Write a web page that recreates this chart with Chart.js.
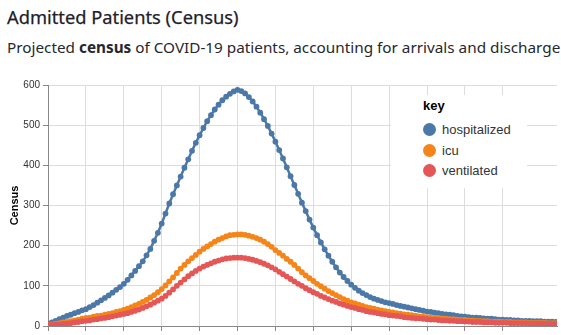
<!DOCTYPE html>
<html>
<head>
<meta charset="utf-8">
<script src="https://cdn.jsdelivr.net/npm/chart.js@4"></script>
<style>
  html, body { margin: 0; padding: 0; background: #fff; overflow: hidden; }
  body { width: 561px; height: 335px; position: relative; font-family: "Noto Sans", sans-serif; color: #262730; }
  #title { position: absolute; left: 7px; top: 4px; font-size: 18.3px; white-space: nowrap; color: #1f2029; -webkit-text-stroke: 0.25px #1f2029; }
  #subtitle { position: absolute; left: 7px; top: 37px; font-size: 15.3px; white-space: nowrap; }
  #chart { position: absolute; left: 0; top: 0; }
  #legend { position: absolute; left: 391px; top: 95px; width: 136px; height: 93px; background: #fff;
            font-family: "Liberation Sans", Arial, sans-serif; color: #333; }
  #legend .ttl { position: absolute; left: 32px; top: 3px; font-size: 13px; font-weight: bold; color: #000; }
  #legend .item { position: absolute; left: 32px; height: 14px; font-size: 13px; line-height: 14px; white-space: nowrap; }
  #legend .dot { display: inline-block; width: 13px; height: 13px; border-radius: 50%; vertical-align: middle; margin-right: 6px; margin-top: -2px; }
</style>
</head>
<body>
<div id="title">Admitted Patients (Census)</div>
<div id="subtitle">Projected <b>census</b> of COVID-19 patients, accounting for arrivals and discharge</div>
<canvas id="chart" width="561" height="335"></canvas>
<div id="legend"></div>
<script>
"use strict";

// day index 0..134
var days = [];
for (var d = 0; d <= 134; d++) days.push(d);

var hospitalized = [
    5, 9, 13, 17, 21, 25, 28, 32, 35, 39, 42,
    47, 52, 58, 64, 70, 76, 83, 90, 97, 105,
    115, 126, 137, 149, 161, 176, 192, 212, 232, 255,
    280, 305, 328, 350, 372, 394, 415, 436, 456, 475,
    493, 510, 525, 539, 551, 562, 571, 578, 584, 588,
    585, 579, 570, 559, 546, 531, 515, 498, 479, 459,
    438, 417, 395, 373, 351, 329, 307, 286, 265, 245,
    226, 208, 191, 175, 160, 146, 133, 122, 112, 103,
    95, 88, 82, 77, 72, 68, 65, 62, 59, 57,
    55, 52, 50, 48, 46, 44, 42, 40, 38, 36,
    35, 33, 32, 30, 29, 28, 27, 25, 24, 23,
    22, 21, 21, 20, 19, 18, 18, 17, 16, 16,
    15, 15, 14, 14, 13, 13, 13, 12, 12, 12,
    11, 11, 11, 10
];

var icu = [
    3, 4, 6, 7, 9, 10, 12, 14, 16, 18, 20,
    21, 23, 25, 26, 28, 30, 32, 35, 37, 40,
    43, 47, 51, 55, 60, 65, 71, 77, 84, 92,
    101, 111, 121, 132, 143, 152, 161, 169, 177, 185,
    192, 198, 204, 210, 215, 219, 223, 226, 227, 228,
    228, 227, 225, 222, 219, 215, 210, 204, 197, 189,
    182, 175, 167, 160, 152, 143, 134, 126, 119, 112,
    105, 99, 93, 87, 82, 77, 72, 67, 63, 59,
    56, 53, 50, 47, 45, 43, 41, 39, 37, 35,
    34, 32, 31, 29, 28, 27, 26, 24, 23, 22,
    21, 20, 20, 19, 18, 17, 17, 16, 15, 15,
    14, 14, 13, 13, 12, 12, 11, 11, 11, 10,
    10, 10, 9, 9, 9, 9, 8, 8, 8, 8,
    8, 7, 7, 7
];

var ventilated = [
    2, 3, 4, 4, 5, 6, 7, 9, 10, 12, 13,
    14, 16, 17, 19, 20, 22, 24, 26, 28, 30,
    32, 35, 38, 41, 45, 49, 53, 58, 63, 68,
    75, 83, 91, 100, 108, 116, 124, 131, 137, 143,
    148, 152, 156, 160, 163, 166, 168, 169, 170, 170,
    170, 169, 167, 165, 162, 159, 155, 151, 146, 141,
    135, 129, 123, 117, 111, 105, 100, 94, 89, 84,
    80, 75, 71, 67, 63, 60, 56, 53, 50, 47,
    45, 42, 40, 37, 35, 34, 32, 30, 29, 27,
    26, 25, 24, 22, 21, 20, 19, 19, 18, 17,
    16, 16, 15, 14, 14, 13, 13, 12, 12, 11,
    11, 10, 10, 10, 9, 9, 9, 8, 8, 8,
    8, 7, 7, 7, 7, 7, 6, 6, 6, 6,
    6, 5, 5, 5
];

var seriesNames = ["hospitalized", "icu", "ventilated"];
var seriesColors = ["#4c78a8", "#f58518", "#e45756"];
var yTicks = [0, 100, 200, 300, 400, 500, 600];

function pts(vals) {
    return vals.map(function (v, i) { return { x: days[i], y: v }; });
}

var allSeries = [hospitalized, icu, ventilated];
var datasets = allSeries.map(function (vals, i) {
    return {
        label: seriesNames[i],
        data: pts(vals),
        borderColor: seriesColors[i],
        backgroundColor: seriesColors[i],
        borderWidth: 2.5,
        pointRadius: 2.9,
        pointBorderWidth: 0,
        pointBackgroundColor: seriesColors[i],
        tension: 0,
        order: 3 - i
    };
});

var ctx = document.getElementById('chart').getContext('2d');

var myChart = new Chart(ctx, {
    type: 'line',
    data: { datasets: datasets },
    options: {
        responsive: false,
        animation: false,
        layout: { padding: { top: 85, left: 0, right: 0, bottom: 0 } },
        plugins: {
            legend: { display: false },
            tooltip: { enabled: false }
        },
        scales: {
            x: {
                type: 'linear',
                min: 0,
                max: 134.3,
                ticks: { display: false, stepSize: 10 },
                afterBuildTicks: function (scale) {
                    scale.ticks = scale.ticks.filter(function (t) { return t.value % 10 === 0; });
                },
                afterFit: function (scale) { scale.height = 8; },
                grid: { color: '#ddd', tickColor: '#888', tickLength: 5 },
                border: { color: '#888' }
            },
            y: {
                min: 0,
                max: 600,
                afterBuildTicks: function (scale) {
                    scale.ticks = yTicks.map(function (v) { return { value: v }; });
                },
                afterFit: function (scale) { scale.width = 48; },
                ticks: {
                    padding: 3,
                    color: '#333',
                    font: { family: 'Liberation Sans', size: 10 }
                },
                grid: { color: '#ddd', tickColor: '#888', tickLength: 5 },
                border: { color: '#888' },
                title: {
                    display: true,
                    text: 'Census',
                    color: '#000',
                    padding: { top: 8, bottom: 0 },
                    font: { family: 'Liberation Sans', size: 11, weight: 'bold' }
                }
            }
        }
    }
});

// legend built from the datasets
var legend = document.getElementById('legend');
var html = '<div class="ttl">key</div>';
var rows = [28, 49, 69];
seriesNames.forEach(function (name, i) {
    html += '<div class="item" style="top:' + rows[i] + 'px"><span class="dot" style="background:' +
        seriesColors[i] + '"></span>' + name + '</div>';
});
legend.innerHTML = html;
</script>
</body>
</html>
